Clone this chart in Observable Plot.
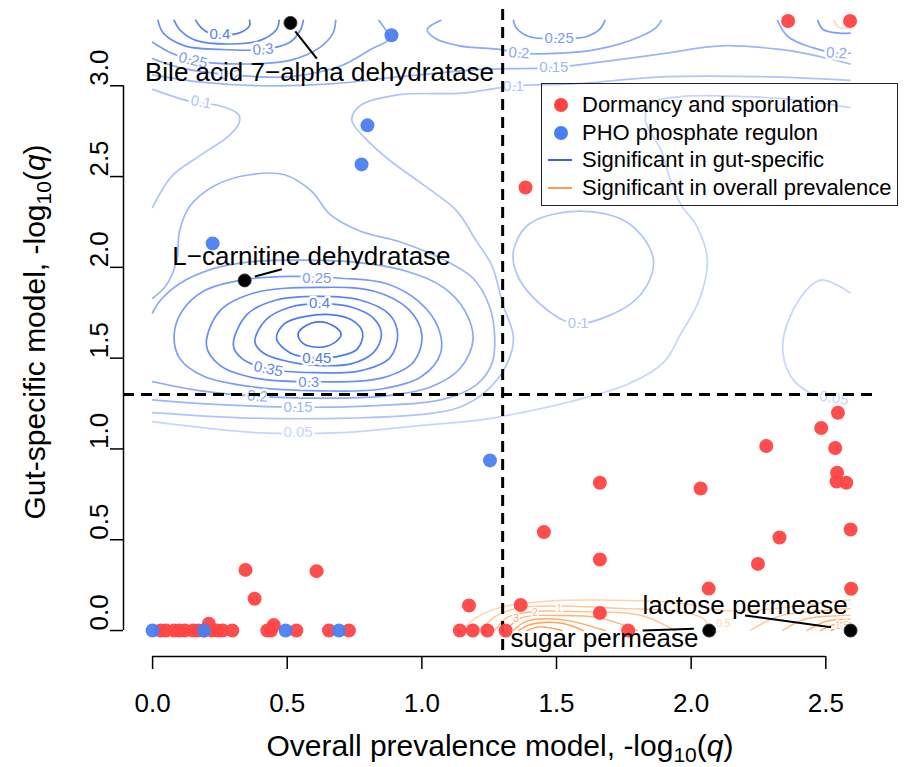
<!DOCTYPE html>
<html><head><meta charset="utf-8">
<script src="https://cdn.jsdelivr.net/npm/d3@7"></script>
<script src="https://cdn.jsdelivr.net/npm/@observablehq/plot@0.6"></script>
<style>
body{margin:0;background:#fff;font-family:'Liberation Sans',Arial,Helvetica,sans-serif;}
#wrap{position:relative;width:909px;height:767px;overflow:hidden;background:#fff}
.legend{position:absolute;left:541px;top:83px;width:357px;height:123px;border:1.5px solid #222;box-sizing:border-box;font-size:22px;color:#000}
.legend .row{position:absolute;left:0;height:28px;display:flex;align-items:center;white-space:nowrap}
.legend svg{display:block}
.xtitle{position:absolute;left:500px;top:746px;transform:translate(-50%,-50%);font-size:30px;line-height:32px;white-space:nowrap;color:#000}
.ytitle{position:absolute;left:35px;top:332px;transform:translate(-50%,-50%) rotate(-90deg);font-size:30px;line-height:32px;white-space:nowrap;color:#000}
sub{font-size:0.7em;vertical-align:-0.3em;line-height:0}
</style></head><body>
<div id="wrap">
<div id="chart"></div>
<div class="legend" id="legend"></div>
<div class="xtitle">Overall prevalence model, -log<sub>10</sub>(<i>q</i>)</div>
<div class="ytitle">Gut-specific model, -log<sub>10</sub>(<i>q</i>)</div>
</div>
<script>
// ---------- data ----------
const xTicks = [0, 0.5, 1, 1.5, 2, 2.5];
const yTicks = [0, 0.5, 1, 1.5, 2, 2.5, 3];

// Dormancy and sporulation genes (red)
const dormancyX = [2.36, 2.59, 1.385, 2.545, 2.483, 2.279, 2.535, 2.542, 2.540, 2.576, 2.035, 1.661, 1.453, 2.592, 2.328, 1.661, 2.248, 2.065, 2.594, 1.367, 1.661, 1.175,
  1.141, 1.189, 1.243, 1.311, 1.766,
  0.345, 0.609, 0.379, 0.209, 0.450,
  0.03, 0.05, 0.08, 0.10, 0.12, 0.15, 0.17, 0.19, 0.22, 0.24, 0.26, 0.296, 0.426, 0.44, 0.534, 0.655, 0.729];
const dormancyY = [3.357, 3.357, 2.44, 1.199, 1.115, 1.016, 1.005, 0.869, 0.821, 0.814, 0.782, 0.814, 0.542, 0.556, 0.512, 0.391, 0.367, 0.231, 0.230, 0.141, 0.097, 0.138,
  0, 0, 0, 0, 0,
  0.334, 0.327, 0.175, 0.037, 0.030,
  0, 0, 0, 0, 0, 0, 0, 0, 0, 0, 0, 0, 0, 0, 0, 0, 0];

// PHO phosphate regulon genes (blue)
const phoX = [0.887, 0.798, 0.776, 0.223, 1.253, 0, 0.191, 0.494, 0.692];
const phoY = [3.278, 2.782, 2.567, 2.132, 0.937, 0, 0, 0, 0];

// highlighted genes
const highlightNames = ["Bile acid 7\u2212alpha dehydratase", "L\u2212carnitine dehydratase", "sugar permease", "lactose permease"];
const highlightX = [0.512, 0.342, 2.067, 2.592];
const highlightY = [3.346, 1.928, 0, 0];
const highlightLabelX = [0.62, 0.59, 1.678, 2.20];
const highlightLabelY = [3.07, 2.06, -0.044, 0.138];
const pointerStart = [[0.53, 3.30], [0.38, 1.95], [2.01, 0.01], [2.52, 0.018]];
const pointerEnd = [[0.61, 3.15], [0.48, 1.99], [1.82, 0.0], [2.20, 0.083]];

// Thresholds
const thresholdX = [1.3];
const thresholdY = [1.3];

// Contours: density of genes significant in the gut-specific model (blue)
const gutContourLines = [
  {level: 0.5, closed: true, pts: [[0.54,1.63],[0.56,1.67],[0.62,1.70],[0.68,1.67],[0.70,1.63],[0.67,1.58],[0.62,1.56],[0.56,1.58]]},
  {level: 0.45, closed: true, pts: [[0.46,1.61],[0.49,1.69],[0.57,1.73],[0.66,1.74],[0.74,1.71],[0.78,1.64],[0.76,1.55],[0.69,1.51],[0.61,1.50],[0.51,1.53]]},
  {level: 0.4, closed: true, pts: [[0.38,1.59],[0.42,1.71],[0.51,1.78],[0.62,1.80],[0.74,1.78],[0.82,1.72],[0.85,1.63],[0.82,1.53],[0.74,1.47],[0.61,1.46],[0.48,1.49],[0.41,1.53]]},
  {level: 0.35, closed: true, pts: [[0.30,1.57],[0.35,1.74],[0.46,1.82],[0.62,1.84],[0.77,1.82],[0.88,1.74],[0.91,1.63],[0.88,1.50],[0.77,1.43],[0.61,1.42],[0.43,1.44],[0.33,1.50]]},
  {level: 0.3, closed: true, pts: [[0.20,1.57],[0.25,1.76],[0.38,1.86],[0.62,1.89],[0.82,1.87],[0.95,1.77],[1.00,1.63],[0.97,1.48],[0.85,1.39],[0.62,1.37],[0.38,1.39],[0.25,1.46]]},
  {level: 0.25, closed: true, pts: [[0.08,1.63],[0.11,1.76],[0.19,1.87],[0.33,1.93],[0.51,1.95],[0.70,1.94],[0.87,1.91],[0.99,1.81],[1.06,1.67],[1.07,1.53],[1.00,1.40],[0.85,1.33],[0.62,1.32],[0.38,1.34],[0.19,1.40],[0.10,1.50]]},
  {level: 0.2, pts: [[0,1.37],[0.18,1.32],[0.39,1.29],[0.62,1.28],[0.85,1.29],[1.03,1.34],[1.14,1.44],[1.19,1.60],[1.16,1.76],[1.08,1.89],[0.94,1.98],[0.74,2.03],[0.55,2.04],[0.36,2.03],[0.22,1.99],[0.10,1.91],[0.03,1.82],[0,1.75]]},
  {level: 0.15, pts: [[0,1.27],[0.18,1.25],[0.54,1.23],[0.85,1.24],[1.07,1.27],[1.20,1.35],[1.26,1.47],[1.27,1.63],[1.25,1.79],[1.19,1.94],[1.07,2.05],[0.92,2.14],[0.77,2.20],[0.66,2.29],[0.59,2.42],[0.49,2.51],[0.36,2.51],[0.23,2.45],[0.14,2.34],[0.10,2.20],[0.09,2.04],[0.05,1.90],[0,1.83]]},
  {level: 0.1, pts: [[0,1.20],[0.36,1.17],[0.74,1.17],[1.00,1.19],[1.14,1.23],[1.24,1.32],[1.31,1.45],[1.34,1.61],[1.30,1.80],[1.26,2.01],[1.20,2.15],[1.13,2.31],[1.01,2.45],[0.88,2.59],[0.79,2.71],[0.74,2.81],[0.77,2.89],[0.91,2.95],[1.15,2.96],[1.35,3.00],[1.56,3.01],[1.91,3.05],[2.26,3.05],[2.59,3.03]]},
  {level: 0.1, pts: [[0,2.98],[0.15,2.91],[0.25,2.89],[0.32,2.84],[0.32,2.79],[0.28,2.72],[0.17,2.61],[0.07,2.50],[0,2.33]]},
  {level: 0.1, closed: true, pts: [[1.34,2.09],[1.40,2.24],[1.59,2.31],[1.77,2.24],[1.86,2.04],[1.80,1.83],[1.58,1.69],[1.47,1.76],[1.36,1.94]]},
  {level: 0.05, pts: [[0,1.15],[0.38,1.09],[0.70,1.09],[1.00,1.13],[1.22,1.16],[1.37,1.20],[1.55,1.26],[1.77,1.36],[1.90,1.48],[1.96,1.63],[2.03,1.82],[2.06,2.04],[2.02,2.23],[1.96,2.35],[1.91,2.54],[1.89,2.64],[1.83,2.81],[1.85,2.90],[1.96,2.94],[2.21,2.94],[2.41,2.92],[2.59,2.88]]},
  {level: 0.05, pts: [[2.59,1.86],[2.48,1.93],[2.40,1.82],[2.34,1.58],[2.37,1.40],[2.44,1.31],[2.53,1.28],[2.59,1.27]]},
  {level: 0.4, pts: [[0.16,3.36],[0.18,3.32],[0.21,3.29],[0.26,3.28],[0.32,3.29],[0.36,3.33],[0.36,3.36]]},
  {level: 0.35, pts: [[0.08,3.36],[0.10,3.31],[0.16,3.25],[0.29,3.23],[0.40,3.25],[0.46,3.31],[0.47,3.36]]},
  {level: 0.3, pts: [[0.02,3.36],[0.04,3.29],[0.12,3.22],[0.25,3.20],[0.41,3.20],[0.51,3.24],[0.55,3.31],[0.56,3.36]]},
  {level: 0.25, pts: [[0,3.24],[0.07,3.18],[0.15,3.14],[0.33,3.12],[0.51,3.14],[0.62,3.21],[0.67,3.29],[0.68,3.36]]},
  {level: 0.2, pts: [[0,3.15],[0.10,3.10],[0.29,3.06],[0.51,3.05],[0.70,3.11],[0.81,3.20],[0.88,3.26],[0.86,3.32],[0.84,3.36]]},
  {level: 0.15, pts: [[0,3.06],[0.18,3.02],[0.40,3.00],[0.66,3.01],[0.92,3.05],[1.22,3.09],[1.49,3.10],[1.66,3.13],[1.91,3.18],[2.11,3.22],[2.33,3.20],[2.48,3.16],[2.59,3.12]]},
  {level: 0.2, pts: [[1.07,3.36],[1.02,3.31],[1.05,3.26],[1.14,3.22],[1.29,3.20],[1.36,3.18],[1.52,3.18],[1.65,3.20],[1.81,3.27],[1.87,3.32],[1.89,3.36]]},
  {level: 0.25, pts: [[1.34,3.36],[1.35,3.32],[1.40,3.27],[1.51,3.26],[1.61,3.27],[1.66,3.31],[1.68,3.36]]},
  {level: 0.2, pts: [[2.32,3.36],[2.36,3.27],[2.45,3.21],[2.54,3.18],[2.59,3.18]]},
  {level: 0.25, pts: [[2.47,3.36],[2.49,3.31],[2.55,3.29],[2.59,3.29]]}
];
const gutContourLabels = [
  {x:0.61,y:1.94,text:"0.25",level:0.25,angle:0},
  {x:0.62,y:1.80,text:"0.4",level:0.4,angle:0},
  {x:0.61,y:1.50,text:"0.45",level:0.45,angle:0},
  {x:0.43,y:1.44,text:"0.35",level:0.35,angle:12},
  {x:0.58,y:1.37,text:"0.3",level:0.3,angle:0},
  {x:0.39,y:1.29,text:"0.2",level:0.2,angle:4},
  {x:0.54,y:1.23,text:"0.15",level:0.15,angle:0},
  {x:0.54,y:1.09,text:"0.05",level:0.05,angle:0},
  {x:0.18,y:2.91,text:"0.1",level:0.1,angle:10},
  {x:0.25,y:3.285,text:"0.4",level:0.4,angle:0},
  {x:0.41,y:3.20,text:"0.3",level:0.3,angle:-4},
  {x:0.15,y:3.14,text:"0.25",level:0.25,angle:14},
  {x:0.29,y:3.06,text:"0.2",level:0.2,angle:5},
  {x:1.36,y:3.18,text:"0.2",level:0.2,angle:3},
  {x:1.51,y:3.26,text:"0.25",level:0.25,angle:0},
  {x:1.49,y:3.10,text:"0.15",level:0.15,angle:0},
  {x:1.34,y:3.00,text:"0.1",level:0.1,angle:0},
  {x:2.54,y:3.18,text:"0.2",level:0.2,angle:4},
  {x:1.58,y:1.69,text:"0.1",level:0.1,angle:0},
  {x:2.53,y:1.28,text:"0.05",level:0.05,angle:8}
];

// Contours: density of genes significant in the overall prevalence model (orange)
const prevContourLines = [
  {level: 0.5, pts: [[1.15,0],[1.20,0.07],[1.30,0.13],[1.45,0.160],[1.66,0.168],[1.96,0.150],[2.12,0.110],[2.29,0.118],[2.48,0.152],[2.59,0.168]]},
  {level: 1, pts: [[1.22,0],[1.27,0.075],[1.36,0.125],[1.50,0.135],[1.74,0.122],[1.96,0.104],[2.05,0.060],[2.06,0]]},
  {level: 1, pts: [[2.22,0],[2.33,0.080],[2.59,0.120]]},
  {level: 1.5, pts: [[1.27,0],[1.32,0.075],[1.42,0.105],[1.58,0.104],[1.81,0.085],[1.94,0]]},
  {level: 1.5, pts: [[2.34,0],[2.42,0.062],[2.55,0.082],[2.59,0.085]]},
  {level: 2, pts: [[1.31,0],[1.37,0.070],[1.50,0.083],[1.66,0.070],[1.80,0]]},
  {level: 2, pts: [[2.43,0],[2.50,0.050],[2.59,0.062]]},
  {level: 2.5, pts: [[1.34,0],[1.39,0.052],[1.52,0.060],[1.68,0]]},
  {level: 2.5, pts: [[2.48,0],[2.54,0.038],[2.59,0.045]]},
  {level: 3, pts: [[1.36,0],[1.41,0.036],[1.52,0.040],[1.60,0]]},
  {level: 3, pts: [[2.52,0],[2.56,0.022],[2.59,0.028]]},
  {level: 3.5, pts: [[1.39,0],[1.44,0.020],[1.52,0]]},
  {level: 0.5, pts: [[2.53,3.36],[2.55,3.32],[2.59,3.32]]}
];
const prevContourLabels = [
  {x:1.35,y:0.066,text:"3",level:3},
  {x:1.42,y:0.095,text:"2",level:2},
  {x:1.51,y:0.118,text:"1",level:1},
  {x:2.12,y:0.035,text:"0.5",level:0.5},
  {x:2.56,y:0.028,text:"1.5",level:1.5}
];

// legend
const legendLabels = ["Dormancy and sporulation", "PHO phosphate regulon", "Significant in gut-specific", "Significant in overall prevalence"];
const legendKinds = ["dot", "dot", "line", "line"];
const legendColors = ["#FF4343", "#4A7EF2", "#2F5FFF", "#FF9A4A"];

// ---------- styles ----------
const gutColor = {"0.05":"#C6D5FB","0.1":"#AFC4FA","0.15":"#9CB6F8","0.2":"#8BA9F7","0.25":"#7A9CF6","0.3":"#6B90F4","0.35":"#5F87F3","0.4":"#5580F2","0.45":"#4C7AF1","0.5":"#4574F0"};
const prevColor = {"0.5":"#FFD3AC","1":"#FFC898","1.5":"#FFBD85","2":"#FFB373","2.5":"#FFA963","3":"#FFA056","3.5":"#FF984A"};
const xDomain = [-0.108, 2.692];
const yDomain = [-0.143, 3.42];
const fmt1 = d3.format(".1f");

function flatten(lines, prefix) {
  const rows = [];
  lines.forEach((l, i) => l.pts.forEach(([x, y]) => rows.push({id: prefix + i, level: l.level, x, y})));
  return rows;
}
const gutOpen = flatten(gutContourLines.filter(l => !l.closed), "go");
const gutClosed = flatten(gutContourLines.filter(l => l.closed), "gc");
const prevOpen = flatten(prevContourLines, "po");

const redPts = dormancyX.map((x, i) => ({x, y: dormancyY[i]}));
const bluePts = phoX.map((x, i) => ({x, y: phoY[i]}));
const highlights = highlightNames.map((name, i) => ({
  name, x: highlightX[i], y: highlightY[i], lx: highlightLabelX[i], ly: highlightLabelY[i],
  x1: pointerStart[i][0], y1: pointerStart[i][1], x2: pointerEnd[i][0], y2: pointerEnd[i][1]
}));

const chart = Plot.plot({
  width: 909, height: 767,
  marginLeft: 123, marginRight: 32, marginTop: 9, marginBottom: 111,
  x: {domain: xDomain},
  y: {domain: yDomain},
  color: {type: "identity"},
  style: {fontFamily: "'Liberation Sans', Arial, Helvetica, sans-serif", background: "white", color: "black"},
  marks: [
    Plot.line(prevOpen, {x: "x", y: "y", z: "id", stroke: d => prevColor[String(d.level)], strokeWidth: 1.4, curve: "catmull-rom"}),
    Plot.line(gutOpen, {x: "x", y: "y", z: "id", stroke: d => gutColor[String(d.level)], strokeWidth: 1.7, curve: "catmull-rom"}),
    Plot.line(gutClosed, {x: "x", y: "y", z: "id", stroke: d => gutColor[String(d.level)], strokeWidth: 1.7, curve: "catmull-rom-closed"}),
    Plot.text(gutContourLabels, {x: "x", y: "y", text: "text", rotate: "angle", fill: d => gutColor[String(d.level)], stroke: "white", strokeWidth: 5, fontSize: 15}),
    Plot.text(prevContourLabels, {x: "x", y: "y", text: "text", fill: d => prevColor[String(d.level)], stroke: "white", strokeWidth: 3, fontSize: 10}),
    Plot.ruleX(thresholdX, {stroke: "black", strokeWidth: 3, strokeDasharray: "11,7"}),
    Plot.ruleY(thresholdY, {stroke: "black", strokeWidth: 3, strokeDasharray: "11,7"}),
    Plot.axisX({ticks: xTicks, tickSize: 13, tickPadding: 24, tickFormat: fmt1, fontSize: 26, label: null, strokeWidth: 1.5}),
    Plot.axisY({ticks: yTicks, tickSize: 13, tickFormat: () => "", label: null, strokeWidth: 1.5}),
    Plot.text(yTicks, {y: d => d, text: d => fmt1(d), frameAnchor: "left", dx: -24, rotate: -90, fontSize: 26, lineAnchor: "middle", fill: "black"}),
    Plot.ruleY([yDomain[0]], {x1: xTicks[0], x2: xTicks[xTicks.length - 1], stroke: "black", strokeWidth: 1.5}),
    Plot.ruleX([xDomain[0]], {y1: yTicks[0], y2: yTicks[yTicks.length - 1], stroke: "black", strokeWidth: 1.5}),
    Plot.link(highlights, {x1: "x1", y1: "y1", x2: "x2", y2: "y2", stroke: "black", strokeWidth: 2}),
    Plot.dot(redPts, {x: "x", y: "y", r: 7, fill: legendColors[0], fillOpacity: 0.95}),
    Plot.dot(bluePts, {x: "x", y: "y", r: 7, fill: legendColors[1], fillOpacity: 0.95}),
    Plot.dot(highlights, {x: "x", y: "y", r: 6.5, fill: "black", stroke: "#333", strokeWidth: 1}),
    Plot.text(highlights, {x: "lx", y: "ly", text: "name", fontSize: 26, fill: "black", lineAnchor: "middle"})
  ]
});
document.getElementById("chart").appendChild(chart);

// legend (HTML overlay)
const legend = document.getElementById("legend");
const rowTops = [21, 49, 76, 104];
legendLabels.forEach((label, i) => {
  const row = document.createElement("div");
  row.className = "row";
  row.style.top = (rowTops[i] - 14) + "px";
  const sym = legendKinds[i] === "dot"
    ? `<svg width="40" height="28"><circle cx="19" cy="14" r="7" fill="${legendColors[i]}"/></svg>`
    : `<svg width="40" height="28"><line x1="6" x2="30" y1="14" y2="14" stroke="${legendColors[i]}" stroke-width="2"/></svg>`;
  row.innerHTML = sym + `<span>${label}</span>`;
  legend.appendChild(row);
});
</script>
</body></html>
